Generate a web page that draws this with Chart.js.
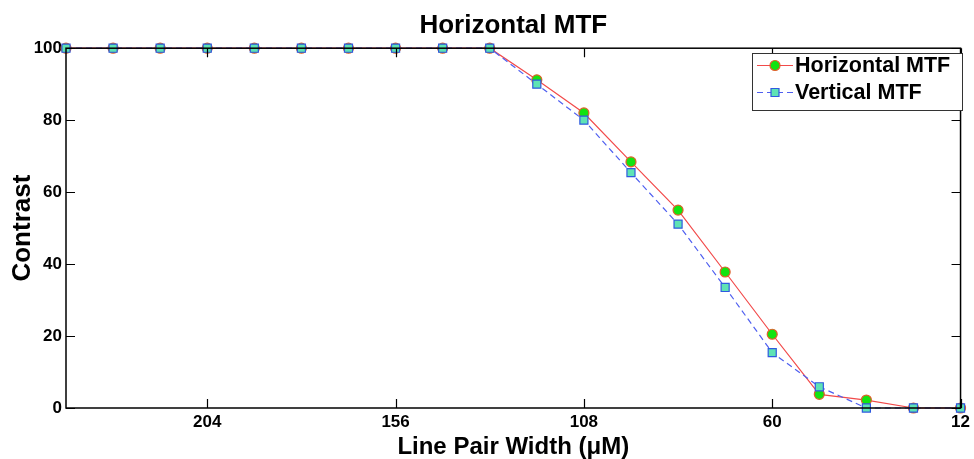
<!DOCTYPE html>
<html>
<head>
<meta charset="utf-8">
<script src="https://cdn.jsdelivr.net/npm/chart.js@4/dist/chart.umd.min.js"></script>
<style>
  html, body { margin: 0; padding: 0; background: #fff; }
  #wrap { width: 974px; height: 459px; }
</style>
</head>
<body>
<div id="wrap"><canvas id="mtfChart" width="974" height="459"></canvas></div>
<script>
// Daten
const lineWidths = [240, 228, 216, 204, 192, 180, 168, 156, 144, 132, 120, 108, 96, 84, 72, 60, 48, 36, 24, 12];
const horizontalMTF = [100, 100, 100, 100, 100, 100, 100, 100, 100, 100, 91.2, 82.0, 68.4, 55.0, 37.8, 20.5, 3.8, 2.2, 0, 0];
const verticalMTF = [100, 100, 100, 100, 100, 100, 100, 100, 100, 100, 90.0, 80.0, 65.4, 51.1, 33.5, 15.4, 5.9, 0, 0, 0];
const xTicks = [204, 156, 108, 60, 12];
const yTicks = [0, 20, 40, 60, 80, 100];

const FONT = 'Arial, "Liberation Sans", sans-serif';

const redLine = '#f24a4a';
const blueLine = '#4f5ff0';

// Rahmen, Ticks nach innen und Legende im Plotbereich
const boxPlugin = {
    id: 'boxPlugin',
    afterDraw(chart) {
        const ctx = chart.ctx;
        const a = chart.chartArea;
        const xs = chart.scales.x;
        const ys = chart.scales.y;
        ctx.save();
        ctx.strokeStyle = '#000';
        ctx.lineWidth = 1.5;
        ctx.strokeRect(a.left, a.top, a.right - a.left, a.bottom - a.top);
        ctx.lineWidth = 1.2;
        ctx.beginPath();
        xTicks.forEach(v => {
            const px = Math.round(xs.getPixelForValue(v)) + 0.5;
            ctx.moveTo(px, a.bottom); ctx.lineTo(px, a.bottom - 9);
            ctx.moveTo(px, a.top); ctx.lineTo(px, a.top + 9);
        });
        yTicks.forEach(v => {
            const py = Math.round(ys.getPixelForValue(v)) + 0.5;
            ctx.moveTo(a.left, py); ctx.lineTo(a.left + 9, py);
            ctx.moveTo(a.right, py); ctx.lineTo(a.right - 9, py);
        });
        ctx.stroke();

        // Legende
        const lx = 752, ly = 53, lw = 210, lh = 57;
        ctx.fillStyle = '#fff';
        ctx.fillRect(lx, ly, lw, lh);
        ctx.strokeStyle = '#333';
        ctx.lineWidth = 1;
        ctx.strokeRect(lx + 0.5, ly + 0.5, lw, lh);
        const rows = [
            { ds: chart.data.datasets[0], y: 65 },
            { ds: chart.data.datasets[1], y: 92 }
        ];
        rows.forEach(r => {
            ctx.strokeStyle = r.ds.borderColor;
            ctx.lineWidth = 1;
            ctx.setLineDash(r.ds.borderDash || []);
            ctx.beginPath();
            ctx.moveTo(757, r.y + 0.5); ctx.lineTo(793, r.y + 0.5);
            ctx.stroke();
            ctx.setLineDash([]);
            ctx.fillStyle = r.ds.pointBackgroundColor;
            ctx.strokeStyle = r.ds.pointBorderColor;
            ctx.lineWidth = 1.2;
            ctx.beginPath();
            if (r.ds.pointStyle === 'circle') {
                ctx.arc(775, r.y + 0.5, 5, 0, Math.PI * 2);
            } else {
                ctx.rect(771, r.y - 3.5, 8, 8);
            }
            ctx.fill(); ctx.stroke();
            ctx.fillStyle = '#000';
            ctx.font = 'bold 21.5px ' + FONT;
            ctx.textBaseline = 'middle';
            ctx.textAlign = 'left';
            ctx.fillText(r.ds.label, 795, r.y + 1);
        });
        ctx.restore();
    }
};

const config = {
    type: 'line',
    data: {
        datasets: [{
            label: 'Horizontal MTF',
            data: lineWidths.map((x, i) => ({ x: x, y: horizontalMTF[i] })),
            borderColor: redLine,
            borderWidth: 1.2,
            pointStyle: 'circle',
            pointRadius: 5,
            pointBackgroundColor: '#11e411',
            pointBorderColor: '#e0602a',
            pointBorderWidth: 1.2,
            tension: 0,
            clip: false,
            order: 2
        }, {
            label: 'Vertical MTF',
            data: lineWidths.map((x, i) => ({ x: x, y: verticalMTF[i] })),
            borderColor: blueLine,
            borderWidth: 1.2,
            borderDash: [6, 4],
            pointStyle: 'rect',
            pointRadius: 5.7,
            pointBackgroundColor: '#5fe3b4',
            pointBorderColor: '#2f5ae0',
            pointBorderWidth: 1.2,
            tension: 0,
            clip: false,
            order: 1
        }]
    },
    options: {
        responsive: false,
        animation: false,
        layout: { padding: { left: 0, right: 11, top: 0, bottom: 0 } },
        plugins: {
            legend: { display: false },
            tooltip: { enabled: false },
            title: {
                display: true,
                text: 'Horizontal MTF',
                fullSize: false,
                color: '#000',
                font: { family: FONT, size: 26, weight: 'bold', lineHeight: 1.2 },
                padding: { top: 10, bottom: 7 }
            }
        },
        scales: {
            x: {
                type: 'linear',
                reverse: true,
                min: 12,
                max: 240,
                afterBuildTicks: s => { s.ticks = xTicks.map(v => ({ value: v })); },
                afterFit: s => { s.height = 51; },
                grid: { display: false, drawTicks: false },
                border: { display: false },
                ticks: {
                    color: '#000',
                    padding: 4,
                    maxRotation: 0,
                    font: { family: FONT, size: 17, weight: 'bold' }
                },
                title: {
                    display: true,
                    text: 'Line Pair Width (μM)',
                    color: '#000',
                    font: { family: FONT, size: 24, weight: 'bold', lineHeight: 1 },
                    padding: { top: 0, bottom: 0 }
                }
            },
            y: {
                min: 0,
                max: 100,
                afterBuildTicks: s => { s.ticks = yTicks.map(v => ({ value: v })); },
                afterFit: s => { s.width = 66; },
                grid: { display: false, drawTicks: false },
                border: { display: false },
                ticks: {
                    color: '#000',
                    padding: 4,
                    font: { family: FONT, size: 17, weight: 'bold' }
                },
                title: {
                    display: true,
                    text: 'Contrast',
                    color: '#000',
                    font: { family: FONT, size: 26, weight: 'bold', lineHeight: 1.2 },
                    padding: { top: 7, bottom: 0 }
                }
            }
        }
    },
    plugins: [boxPlugin]
};

const ctx = document.getElementById('mtfChart').getContext('2d');
const mtfChart = new Chart(ctx, config);
</script>
</body>
</html>
